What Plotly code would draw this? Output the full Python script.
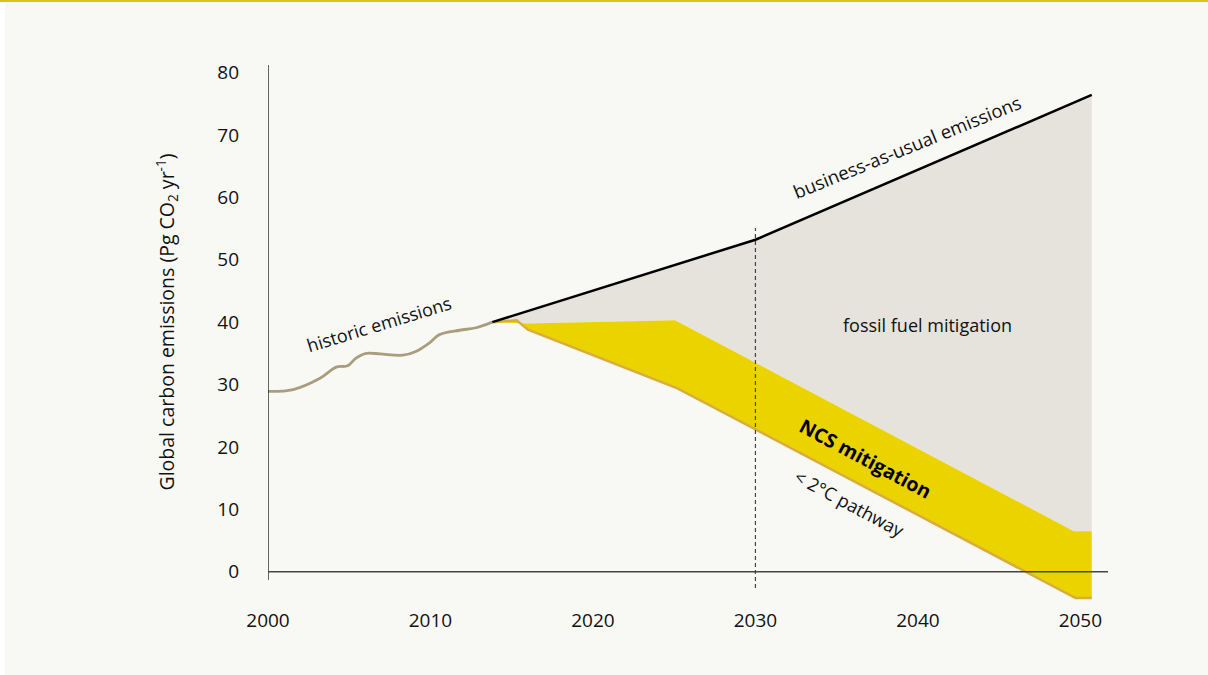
import plotly.graph_objects as go

# ---- data ----
hist_years = [2000.0, 2001.55, 2003.2, 2004.2, 2004.9, 2005.4, 2006.05, 2006.9,
              2008.3, 2009.1, 2009.9, 2010.55, 2011.8, 2012.8, 2013.8]
hist_values = [28.9, 29.2, 31.0, 32.8, 33.0, 34.2, 35.0, 34.9,
               34.7, 35.3, 36.6, 38.0, 38.7, 39.1, 40.0]

bau_years = [2013.8, 2030.0, 2050.7]
bau_values = [40.0, 53.2, 76.4]

ncs_top_years = [2013.8, 2016.0, 2025.05, 2049.6, 2050.7]
ncs_top_values = [40.0, 39.8, 40.3, 6.5, 6.5]

path_years = [2013.8, 2015.3, 2016.0, 2025.2, 2049.7, 2050.7]
path_values = [40.0, 40.3, 38.8, 29.4, -4.2, -4.2]

x_ticks = [2000, 2010, 2020, 2030, 2040, 2050]
y_ticks = [0, 10, 20, 30, 40, 50, 60, 70, 80]

FONT = "Open Sans"
BG = "#f8f9f4"

fig = go.Figure()

# fossil fuel mitigation (grey) area between BAU and NCS top
fig.add_trace(go.Scatter(
    x=bau_years + ncs_top_years[::-1],
    y=bau_values + ncs_top_values[::-1],
    fill="toself", fillcolor="#e6e2dc", mode="none", hoverinfo="skip",
    showlegend=False))

# NCS mitigation (yellow) area between NCS top and 2°C pathway
fig.add_trace(go.Scatter(
    x=ncs_top_years + path_years[::-1],
    y=ncs_top_values + path_values[::-1],
    fill="toself", fillcolor="#ebd300", mode="none", hoverinfo="skip",
    showlegend=False))

# 2°C pathway edge
fig.add_trace(go.Scatter(
    x=path_years, y=path_values, mode="lines",
    line=dict(color="#d8ad3e", width=2.5), hoverinfo="skip", showlegend=False))

# business-as-usual line
fig.add_trace(go.Scatter(
    x=bau_years, y=bau_values, mode="lines",
    line=dict(color="#000000", width=2.5), hoverinfo="skip", showlegend=False))

# historic emissions
fig.add_trace(go.Scatter(
    x=hist_years, y=hist_values, mode="lines", line_shape="spline",
    line=dict(color="#a99d7d", width=2.8), hoverinfo="skip", showlegend=False))

L, R, T, B = 268, 100, 60, 72
W, H = 1208, 675
pw, ph = W - L - R, H - T - B


def px_x(p):
    return (p - L) / pw


def px_y(p):
    return (H - B - p) / ph


shapes = [
    # left white strip and top yellow rule
    dict(type="rect", xref="paper", yref="paper", x0=px_x(0), x1=px_x(5),
         y0=px_y(0), y1=px_y(H), fillcolor="#ffffff", line_width=0, layer="below"),
    dict(type="rect", xref="paper", yref="paper", x0=px_x(0), x1=px_x(W),
         y0=px_y(2), y1=px_y(0), fillcolor="#d5c61a", line_width=0, layer="below"),
    # y axis line
    dict(type="line", xref="x", yref="y", x0=2000, x1=2000, y0=-1.3, y1=81.2,
         line=dict(color="#000000", width=1.2), layer="above"),
    # zero line
    dict(type="line", xref="x", yref="y", x0=2000, x1=2051.7, y0=0, y1=0,
         line=dict(color="#444444", width=1.5), layer="above"),
    # 2030 dashed line
    dict(type="line", xref="x", yref="y", x0=2030, x1=2030, y0=-2.6, y1=55.1,
         line=dict(color="#444444", width=1.2, dash="4px,3px"), layer="above"),
]

annotations = [
    dict(x=2006.83, y=39.7, text="historic emissions", textangle=-17,
         font=dict(size=18, color="#111111", family=FONT)),
    dict(x=2039.33, y=68.2, text="business-as-usual emissions", textangle=-22,
         font=dict(size=18.5, color="#111111", family=FONT)),
    dict(x=2040.56, y=39.5, text="fossil fuel mitigation", textangle=0,
         font=dict(size=18, color="#111111", family=FONT)),
    dict(x=2036.8, y=18.2, text="<b>NCS mitigation</b>", textangle=28,
         font=dict(size=19.5, color="#000000", family=FONT)),
    dict(x=2035.76, y=11.0, text="&lt; 2°C pathway", textangle=28,
         font=dict(size=18, color="#111111", family=FONT)),
    dict(xref="paper", yref="paper", x=px_x(148), y=px_y(322), textangle=-90,
         text="Global carbon emissions (Pg CO<sub>2</sub> yr<sup>-1</sup>)",
         font=dict(size=19.5, color="#111111", family=FONT)),
]
for a in annotations:
    a.setdefault("xref", "x")
    a.setdefault("yref", "y")
    a["showarrow"] = False

fig.update_layout(
    width=W, height=H,
    margin=dict(l=L, r=R, t=T, b=B, pad=0),
    paper_bgcolor=BG, plot_bgcolor="rgba(0,0,0,0)",
    font=dict(family=FONT, size=18, color="#111111"),
    shapes=shapes, annotations=annotations,
    showlegend=False,
    xaxis=dict(range=[2000, 2051.7], tickvals=x_ticks, ticktext=[str(v) for v in x_ticks],
               showgrid=False, zeroline=False, showline=False, ticks="",
               ticklabelstandoff=4, tickfont=dict(size=19, family=FONT, color="#111111")),
    yaxis=dict(range=[-5, 82], tickvals=y_ticks, ticktext=[str(v) for v in y_ticks],
               showgrid=False, zeroline=False, showline=False, ticks="",
               ticklabelstandoff=28, tickfont=dict(size=19, family=FONT, color="#111111")),
)

fig.write_html(
    "out.html",
    config={"displayModeBar": False},
    post_script="document.body.style.margin='0';document.body.style.padding='0';",
)
